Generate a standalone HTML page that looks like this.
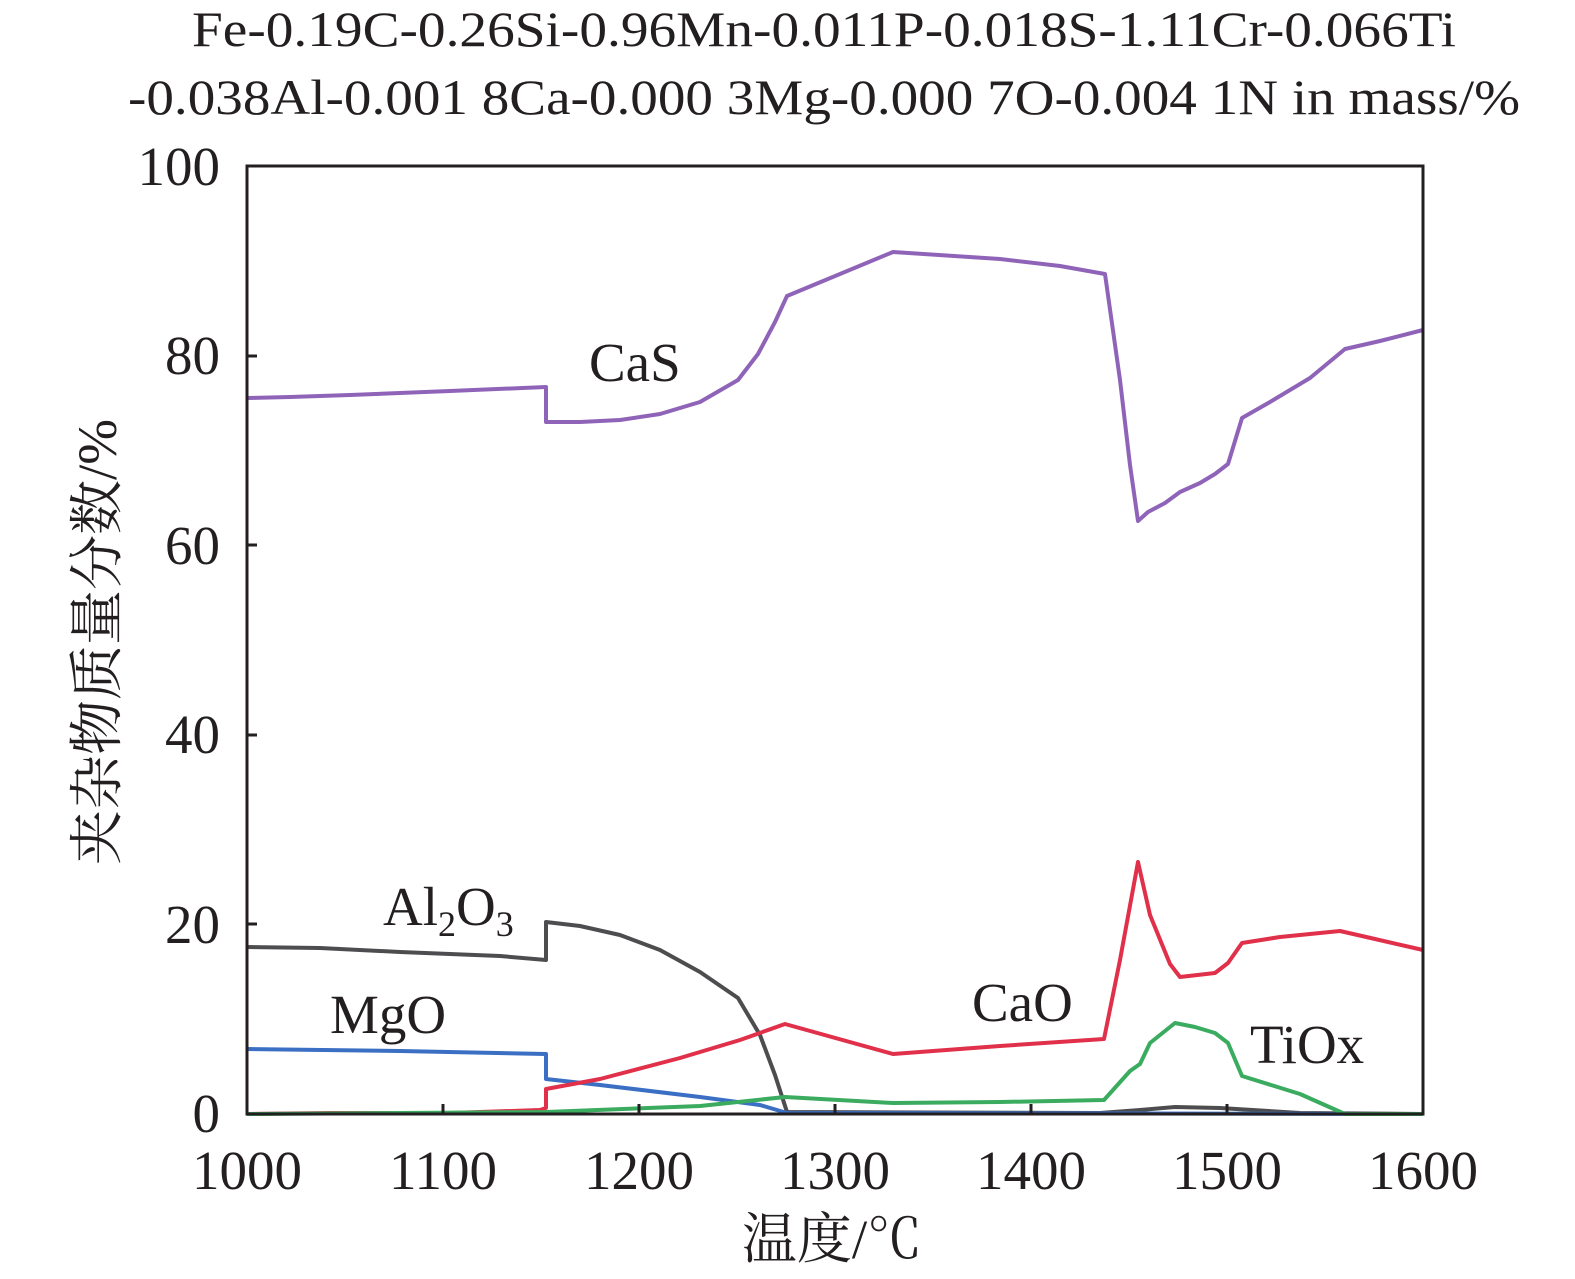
<!DOCTYPE html>
<html><head><meta charset="utf-8"><style>
html,body{margin:0;padding:0;background:#fff;}
svg{display:block;}
text{font-family:"Liberation Serif","Noto Serif CJK SC",serif;fill:#231f20;}
</style></head><body>
<svg width="1575" height="1279" viewBox="0 0 1575 1279" xmlns="http://www.w3.org/2000/svg">
<text x="192" y="46" font-size="50" textLength="1264" lengthAdjust="spacingAndGlyphs">Fe-0.19C-0.26Si-0.96Mn-0.011P-0.018S-1.11Cr-0.066Ti</text>
<text x="128" y="114" font-size="50" textLength="1392" lengthAdjust="spacingAndGlyphs">-0.038Al-0.001 8Ca-0.000 3Mg-0.000 7O-0.004 1N in mass/%</text>
<g fill="none" stroke-width="4" stroke-linejoin="round">
<polyline stroke="#4d4d4f" points="247,947 320,948 400,952 500,956 546,960 546,922 580,926 620,935 660,950 700,972 738,998 760,1035 775,1075 787,1112 1100,1113 1140,1110 1175,1107 1220,1108 1300,1113 1423,1114"/>
<polyline stroke="#3a6fc4" points="247,1049 400,1051 546,1054 546,1079 600,1085 700,1097 760,1105 787,1113 1423,1114"/>
<polyline stroke="#e0304a" points="247,1114 330,1113 450,1113 540,1110 546,1108 546,1089 600,1079 680,1058 740,1040 785,1024 893,1054 1000,1046 1104,1039 1120,960 1138,862 1150,915 1170,964 1180,977 1215,973 1228,963 1242,943 1280,937 1340,931 1375,939 1423,950"/>
<polyline stroke="#3aab5f" points="247,1114 546,1112 700,1106 785,1097 893,1103 1000,1102 1104,1100 1130,1071 1140,1064 1150,1043 1175,1023 1195,1027 1215,1033 1228,1043 1242,1076 1300,1094 1345,1114 1423,1114"/>
<polyline stroke="#8f64b8" points="247,398 290,397 350,395 450,391 546,387 546,422 580,422 620,420 660,414 700,402 738,380 758,354 775,322 787,296 893,252 1000,259 1060,266 1105,274 1120,380 1130,465 1138,521 1148,512 1165,503 1180,492 1200,483 1215,474 1228,464 1242,418 1270,402 1310,378 1345,349 1380,341 1423,330"/>
</g>
<rect x="247" y="166" width="1176" height="948" fill="none" stroke="#231f20" stroke-width="3"/>
<g stroke="#231f20" stroke-width="3">
<line x1="247" y1="924" x2="257" y2="924"/><line x1="247" y1="735" x2="257" y2="735"/><line x1="247" y1="545" x2="257" y2="545"/><line x1="247" y1="356" x2="257" y2="356"/>
<line x1="443" y1="1114" x2="443" y2="1104"/><line x1="639" y1="1114" x2="639" y2="1104"/><line x1="835" y1="1114" x2="835" y2="1104"/><line x1="1031" y1="1114" x2="1031" y2="1104"/><line x1="1227" y1="1114" x2="1227" y2="1104"/>
</g>
<g font-size="55" text-anchor="end">
<text x="220" y="1132">0</text><text x="220" y="943">20</text><text x="220" y="753">40</text><text x="220" y="564">60</text><text x="220" y="374">80</text><text x="220" y="185">100</text>
</g>
<g font-size="55" text-anchor="middle">
<text x="247" y="1189">1000</text><text x="443" y="1189">1100</text><text x="639" y="1189">1200</text><text x="835" y="1189">1300</text><text x="1031" y="1189">1400</text><text x="1227" y="1189">1500</text><text x="1423" y="1189">1600</text>
<text x="832" y="1258">温度/℃</text>
</g>
<text transform="translate(116,642) rotate(-90)" font-size="55" text-anchor="middle">夹杂物质量分数/%</text>
<g font-size="55">
<text x="589" y="381">CaS</text>
<text x="383" y="925">Al<tspan font-size="36" dy="11">2</tspan><tspan dy="-11">O</tspan><tspan font-size="36" dy="11">3</tspan></text>
<text x="330" y="1033">MgO</text>
<text x="972" y="1021">CaO</text>
<text x="1250" y="1063">TiOx</text>
</g>
</svg>
</body></html>
